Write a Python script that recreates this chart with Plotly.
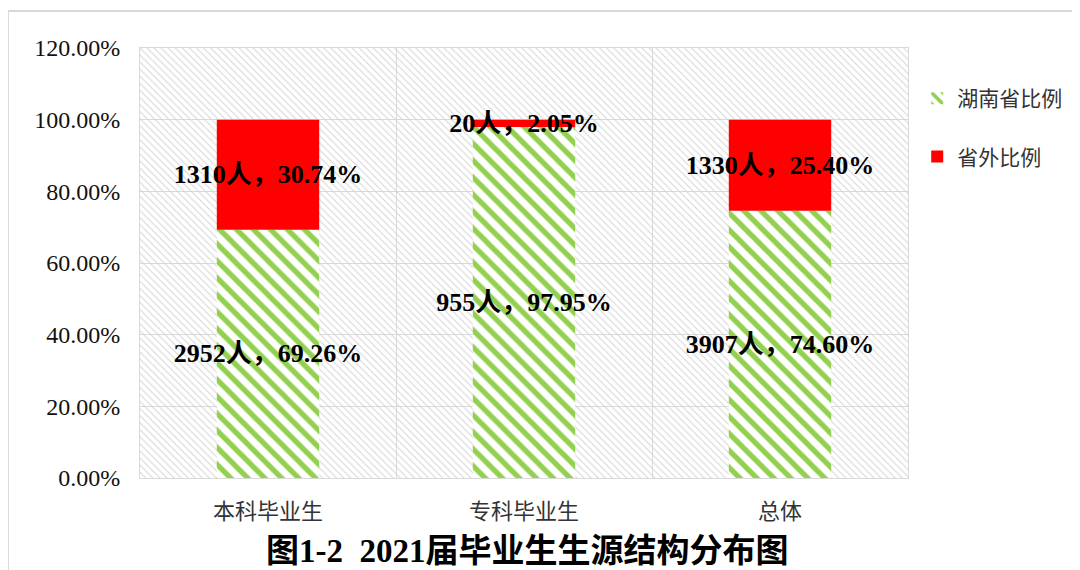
import plotly.graph_objects as go

categories = ["本科毕业生", "专科毕业生", "总体"]
hunan_count = [2952, 955, 3907]
hunan_pct = [69.26, 97.95, 74.60]
out_count = [1310, 20, 1330]
out_pct = [30.74, 2.05, 25.40]
y_ticks = [0, 20, 40, 60, 80, 100, 120]

GREEN = "#92D050"
RED = "#FF0000"
SERIF = "Liberation Serif, Times New Roman, Noto Sans CJK SC, serif"
CJK = "Noto Sans CJK SC, sans-serif"

hunan_text = [f"{c}人，{p:.2f}%" for c, p in zip(hunan_count, hunan_pct)]
out_text = [f"{c}人，{p:.2f}%" for c, p in zip(out_count, out_pct)]

fig = go.Figure()

# hatched plot-area background
fig.add_trace(go.Bar(
    x=[categories[1]], y=[y_ticks[-1]], width=[3],
    marker=dict(color="rgba(0,0,0,0)", line=dict(width=0),
                pattern=dict(shape="\\", size=5, solidity=0.2,
                             fgcolor="#d4d4d4", bgcolor="rgba(0,0,0,0)", fgopacity=1)),
    showlegend=False, hoverinfo="skip",
))

fig.add_trace(go.Bar(
    name="湖南省比例", x=categories, y=hunan_pct, width=0.4,
    legendgroup="a",
    marker=dict(color="white", line=dict(width=0),
                pattern=dict(shape="\\", size=12, solidity=0.45,
                             fgcolor=GREEN, bgcolor="white", fgopacity=1)),
    text=hunan_text, textposition="inside", insidetextanchor="middle",
    constraintext="none", textangle=0,
    textfont=dict(family=SERIF, size=26, color="black", weight="bold"),
))

fig.add_trace(go.Bar(
    name="省外比例", x=categories, y=out_pct, base=hunan_pct, width=0.4,
    legendgroup="b",
    marker=dict(color=RED, line=dict(width=0)),
    text=out_text, textposition="inside", insidetextanchor="middle",
    constraintext="none", textangle=0,
    textfont=dict(family=SERIF, size=26, color="black", weight="bold"),
))

fig.update_layout(
    width=1080, height=570,
    barmode="overlay",
    paper_bgcolor="white", plot_bgcolor="white",
    margin=dict(l=132, r=180, t=40, b=100),
    xaxis=dict(
        type="category", categoryorder="array", categoryarray=categories,
        range=[-0.5, 2.5], tickson="boundaries",
        showgrid=True, gridcolor="#d9d9d9", gridwidth=1,
        showline=True, linecolor="#d9d9d9", mirror=True,
        ticks="", ticklabelstandoff=14,
        tickfont=dict(family=CJK, size=22, color="#333333"),
    ),
    yaxis=dict(
        range=[0, 120], tickvals=y_ticks,
        ticktext=[f"{v:.2f}%" for v in y_ticks],
        showgrid=True, gridcolor="#d9d9d9", gridwidth=1,
        showline=True, linecolor="#d9d9d9", mirror=True,
        zeroline=False, ticks="", ticklabelstandoff=14,
        tickfont=dict(family=SERIF, size=24, color="#111111"),
    ),
    legend=dict(
        x=1.012, y=0.93, xanchor="left", yanchor="top",
        font=dict(family=CJK, size=21, color="#333333"),
        itemwidth=30, tracegroupgap=28, bgcolor="rgba(0,0,0,0)",
    ),
    shapes=[dict(type="rect", xref="paper", yref="paper",
                 x0=-0.172, x1=1.4, y0=-0.4, y1=1.086,
                 line=dict(color="#d9d9d9", width=2), layer="below")],
    annotations=[dict(
        text="图1-2  2021届毕业生生源结构分布图", xref="paper", yref="paper",
        x=0.505, y=-0.17, xanchor="center", yanchor="middle", showarrow=False,
        font=dict(family=SERIF, size=33, color="black", weight="bold"),
    )],
)

fig.write_html("out.html")
